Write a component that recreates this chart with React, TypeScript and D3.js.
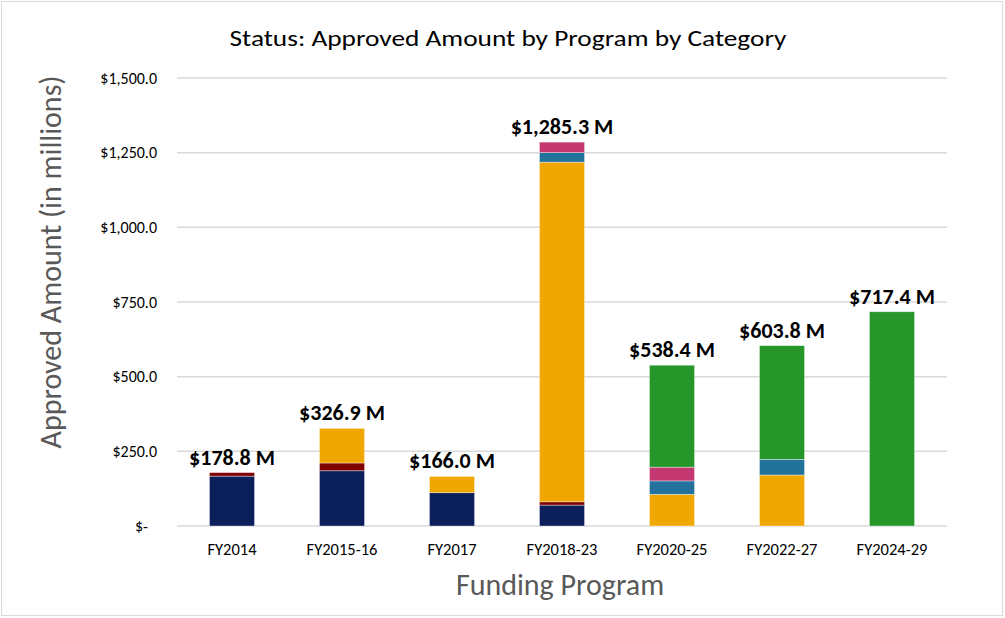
import React from "react";
import * as d3 from "d3";

const programs = ["FY2014", "FY2015-16", "FY2017", "FY2018-23", "FY2020-25", "FY2022-27", "FY2024-29"];
const seriesNames = ["Cat1", "Cat2", "Cat3", "Cat4", "Cat5", "Cat6"];
const seriesColors = ["#0b1f5b", "#800000", "#f0a800", "#23729b", "#c2386f", "#27962a"];
const cat1 = [167.0, 185.0, 111.5, 70.0, 0, 0, 0];
const cat2 = [11.8, 26.0, 0, 11.0, 0, 0, 0];
const cat3 = [0, 115.9, 54.5, 1137.3, 106.0, 170.7, 0];
const cat4 = [0, 0, 0, 32.0, 45.0, 52.3, 0];
const cat5 = [0, 0, 0, 35.0, 46.0, 0, 0];
const cat6 = [0, 0, 0, 0, 341.4, 380.8, 717.4];
const totalLabels = ["$178.8 M", "$326.9 M", "$166.0 M", "$1,285.3 M", "$538.4 M", "$603.8 M", "$717.4 M"];
const yTicks = [0, 250, 500, 750, 1000, 1250, 1500];

const W = 1005, H = 618;
const M = { left: 177, right: 947, top: 78, bottom: 526 };

function fmt(v: number) {
  if (v === 0) return "$-";
  return "$" + d3.format(",.1f")(v);
}

export default function App() {
  const x = d3.scaleBand<string>().domain(programs).range([M.left, M.right]).paddingInner(0.59).paddingOuter(0.295);
  const y = d3.scaleLinear().domain([0, 1500]).range([M.bottom, M.top]);
  const rows = programs.map((p, i) => ({
    program: p,
    Cat1: cat1[i], Cat2: cat2[i], Cat3: cat3[i], Cat4: cat4[i], Cat5: cat5[i], Cat6: cat6[i],
  }));
  const stacked = d3.stack<any>().keys(seriesNames)(rows);
  const totals = rows.map((r) => seriesNames.reduce((s, k) => s + (r as any)[k], 0));
  const font = "Carlito, Calibri, 'Open Sans', sans-serif";
  return (
    <svg width={W} height={H} style={{ position: "absolute", left: 0, top: 0, fontFamily: font }}>
      <rect x={0} y={0} width={W} height={H} fill="#fff" />
      <rect x={1.5} y={1.5} width={1001} height={614} fill="none" stroke="#d9d9d9" strokeWidth={1} />
      <text x={508} y={46} textAnchor="middle" fontSize={23} fill="#000" textLength={557} lengthAdjust="spacingAndGlyphs">
        Status: Approved Amount by Program by Category
      </text>
      {yTicks.map((t) => (
        <g key={t}>
          <line x1={M.left} x2={M.right} y1={y(t)} y2={y(t)} stroke="#d9d9d9" strokeWidth={1.5} />
          <text x={t === 0 ? 148 : 157} y={y(t) + 5.5} textAnchor="end" fontSize={16} fill="#000">
            {fmt(t)}
          </text>
        </g>
      ))}
      {stacked.map((s, si) => (
        <g key={s.key} fill={seriesColors[si]}>
          {s.map((d, i) =>
            d[1] - d[0] > 0 ? (
              <rect
                key={i}
                x={x(programs[i])}
                width={x.bandwidth()}
                y={y(d[1])}
                height={y(d[0]) - y(d[1])}
                stroke="#ffffff"
                strokeOpacity={0.5}
                strokeWidth={0.75}
              />
            ) : null
          )}
        </g>
      ))}
      {programs.map((p, i) => (
        <text key={p} x={(x(p) as number) + x.bandwidth() / 2} y={y(totals[i]) - 8} textAnchor="middle" fontSize={22} fontWeight="bold" fill="#000">
          {totalLabels[i]}
        </text>
      ))}
      {programs.map((p) => (
        <text key={p} x={(x(p) as number) + x.bandwidth() / 2} y={555} textAnchor="middle" fontSize={16.5} fill="#000">
          {p}
        </text>
      ))}
      <text x={560} y={595} textAnchor="middle" fontSize={30} fill="#595959">
        Funding Program
      </text>
      <text transform={`translate(61,262) rotate(-90)`} textAnchor="middle" fontSize={30} fill="#595959">
        Approved Amount (in millions)
      </text>
    </svg>
  );
}
